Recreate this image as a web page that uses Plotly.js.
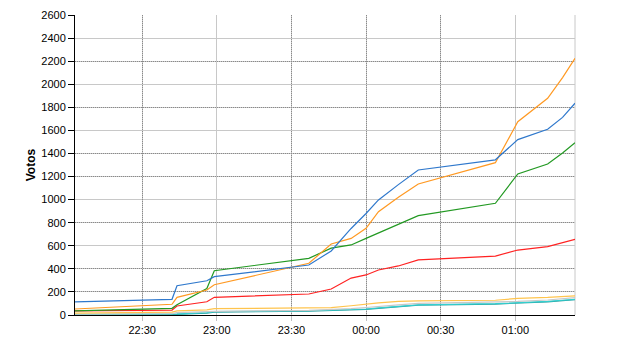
<!DOCTYPE html>
<html>
<head>
<meta charset="utf-8">
<script src="https://cdn.plot.ly/plotly-3.0.1.min.js"></script>
<style>html,body{margin:0;padding:0;background:#fff;}#chart{width:640px;height:350px;}</style>
</head>
<body>
<div id="chart"></div>
<script>
// Report times
const times = [
  "2011-05-22 22:03", "2011-05-22 22:42", "2011-05-22 22:44", "2011-05-22 22:56", "2011-05-22 22:59",
  "2011-05-22 23:37", "2011-05-22 23:46", "2011-05-22 23:54", "2011-05-23 00:00", "2011-05-23 00:05",
  "2011-05-23 00:13", "2011-05-23 00:21", "2011-05-23 00:52", "2011-05-23 01:01", "2011-05-23 01:13",
  "2011-05-23 01:19", "2011-05-23 01:24"
];
// Vote counts per series
const blue   = [113, 136, 254, 297, 332, 433, 555, 750, 880, 997, 1130, 1257, 1345, 1520, 1610, 1713, 1835];
const orange = [52, 93, 153, 217, 262, 448, 615, 664, 751, 895, 1020, 1135, 1320, 1675, 1878, 2058, 2225];
const green  = [35, 58, 89, 230, 384, 491, 580, 607, 664, 711, 784, 861, 968, 1222, 1309, 1404, 1493];
const red    = [35, 43, 78, 115, 153, 182, 225, 320, 347, 390, 425, 477, 511, 563, 592, 625, 656];
const yellow = [17, 25, 35, 45, 55, 60, 64, 80, 95, 105, 118, 122, 128, 144, 152, 158, 165];
const grey   = [8, 12, 20, 28, 32, 40, 45, 55, 65, 75, 88, 100, 110, 118, 130, 140, 150];
const cyan   = [3, 5, 10, 20, 29, 37, 42, 48, 52, 62, 78, 88, 98, 105, 118, 128, 136];
const teal   = [1, 3, 6, 15, 25, 33, 38, 44, 49, 58, 74, 85, 95, 102, 114, 124, 132];

const yTicks = [0, 200, 400, 600, 800, 1000, 1200, 1400, 1600, 1800, 2000, 2200, 2400, 2600];
const yDotted = [200, 400, 800, 1200, 1400, 1800, 2200, 2600];
const xTicks = ["2011-05-22 22:30", "2011-05-22 23:00", "2011-05-22 23:30", "2011-05-23 00:00", "2011-05-23 00:30", "2011-05-23 01:00"];
const xTickText = ["22:30", "23:00", "23:30", "00:00", "00:30", "01:00"];
const xDotted = ["2011-05-22 22:30", "2011-05-22 23:30", "2011-05-23 00:00", "2011-05-23 00:30"];

const series = [
  {y: teal, color: "#2a9d9d"},
  {y: cyan, color: "#33d0d0"},
  {y: grey, color: "#c8c8c8"},
  {y: yellow, color: "#ffc44d"},
  {y: red, color: "#ff2222"},
  {y: green, color: "#229922"},
  {y: orange, color: "#ff9922"},
  {y: blue, color: "#2f78cc"}
];

const traces = series.map(s => ({
  x: times, y: s.y, type: "scatter", mode: "lines",
  line: {color: s.color, width: 1.2}, hoverinfo: "skip"
}));

const font = {family: "'Liberation Sans', Arial, sans-serif", size: 11, color: "#000"};

const layout = {
  width: 640, height: 350,
  margin: {l: 75, r: 65, t: 15, b: 35},
  paper_bgcolor: "#fff", plot_bgcolor: "#fff",
  showlegend: false,
  font: font,
  xaxis: {
    type: "date", range: [times[0], times[times.length - 1]],
    tickvals: xTicks, ticktext: xTickText,
    showgrid: true, gridcolor: "#c8c8c8", gridwidth: 1,
    showline: true, linecolor: "#000", linewidth: 1,
    ticks: "outside", ticklen: 5, tickcolor: "#c0c0c0",
    zeroline: false, tickfont: font
  },
  xaxis2: {
    type: "date", range: [times[0], times[times.length - 1]],
    overlaying: "x", anchor: "y",
    tickvals: xDotted, showticklabels: false, ticks: "",
    showgrid: true, gridcolor: "#8a8a8a", griddash: "1px,1px", gridwidth: 1,
    showline: false, zeroline: false
  },
  yaxis: {
    range: [0, 2600], tickvals: yTicks,
    showgrid: true, gridcolor: "#c8c8c8", gridwidth: 1,
    showline: true, linecolor: "#000", linewidth: 1,
    ticks: "outside", ticklen: 6, tickcolor: "#000",
    zeroline: false, tickfont: font,
    title: {text: "<b>Votos</b>", font: {family: "'Liberation Sans', Arial, sans-serif", size: 12, color: "#000"}, standoff: 3}
  },
  yaxis2: {
    range: [0, 2600], overlaying: "y", anchor: "x",
    tickvals: yDotted, showticklabels: false, ticks: "",
    showgrid: true, gridcolor: "#8a8a8a", griddash: "1px,1px", gridwidth: 1,
    showline: false, zeroline: false
  },
  shapes: [{type: "line", xref: "paper", yref: "paper", x0: 1, x1: 1, y0: 0, y1: 1,
            line: {color: "#c8c8c8", width: 1}, layer: "below"}]
};

traces.push({x: [times[0]], y: [0], xaxis: "x2", yaxis: "y2", type: "scatter", mode: "none", hoverinfo: "skip", showlegend: false});

Plotly.newPlot("chart", traces, layout, {staticPlot: true, displayModeBar: false});
</script>
</body>
</html>
